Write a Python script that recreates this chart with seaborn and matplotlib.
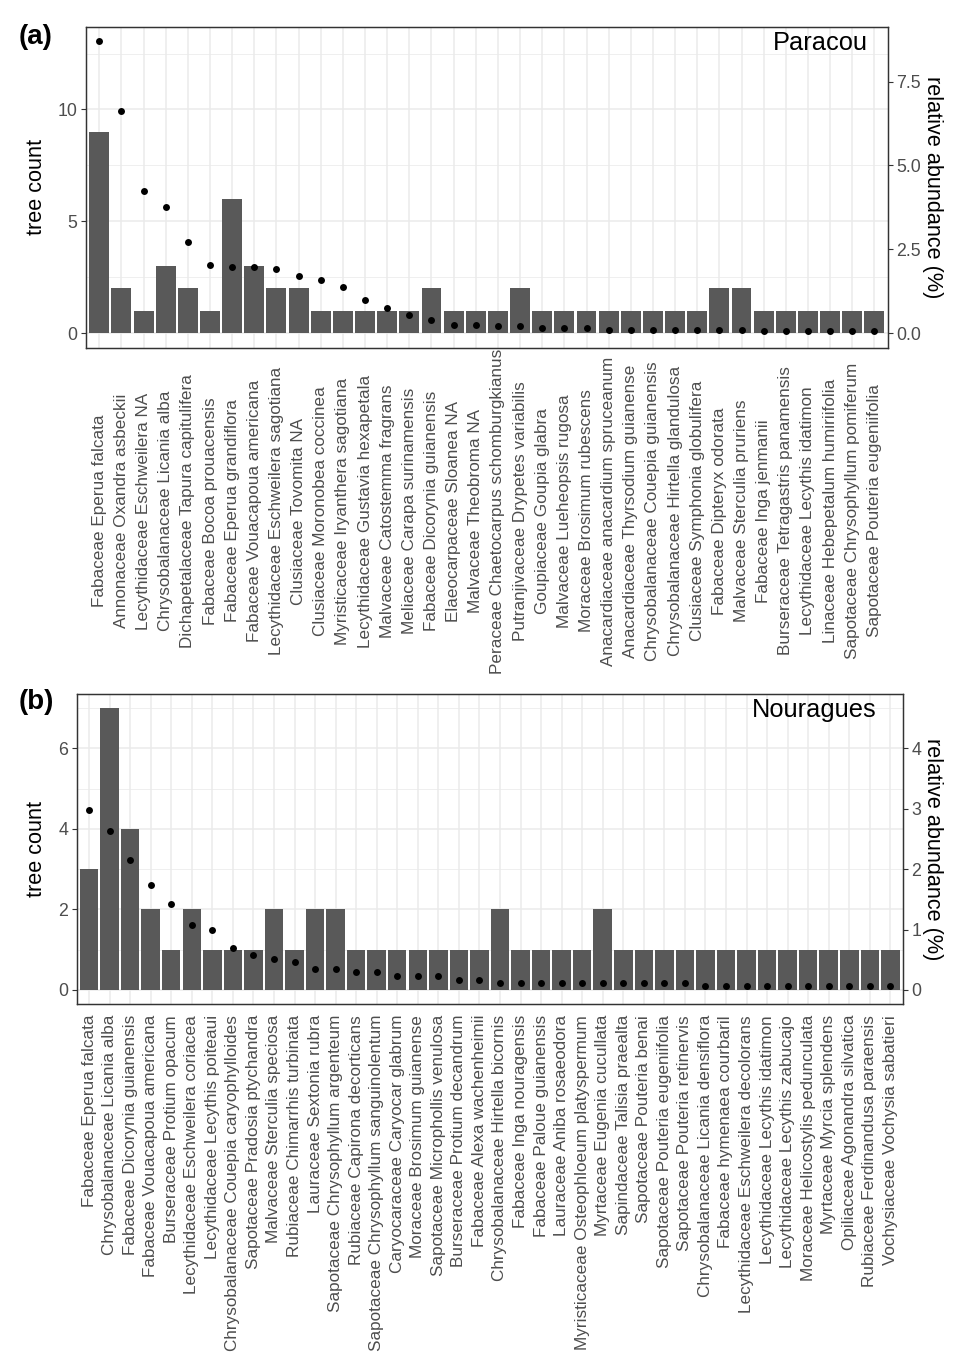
import numpy as np
import matplotlib
matplotlib.use("Agg")
import matplotlib.pyplot as plt
import seaborn as sns
from matplotlib.ticker import FixedLocator

sns.set_style("white")
plt.rcParams['font.family'] = ['Liberation Sans', 'DejaVu Sans']

# Panel (a) Paracou
para_species = [
    "Fabaceae Eperua falcata", "Annonaceae Oxandra asbeckii", "Lecythidaceae Eschweilera NA",
    "Chrysobalanaceae Licania alba", "Dichapetalaceae Tapura capitulifera", "Fabaceae Bocoa prouacensis",
    "Fabaceae Eperua grandiflora", "Fabaceae Vouacapoua americana", "Lecythidaceae Eschweilera sagotiana",
    "Clusiaceae Tovomita NA", "Clusiaceae Moronobea coccinea", "Myristicaceae Iryanthera sagotiana",
    "Lecythidaceae Gustavia hexapetala", "Malvaceae Catostemma fragrans", "Meliaceae Carapa surinamensis",
    "Fabaceae Dicorynia guianensis", "Elaeocarpaceae Sloanea NA", "Malvaceae Theobroma NA",
    "Peraceae Chaetocarpus schomburgkianus", "Putranjivaceae Drypetes variabilis", "Goupiaceae Goupia glabra",
    "Malvaceae Lueheopsis rugosa", "Moraceae Brosimum rubescens", "Anacardiaceae anacardium spruceanum",
    "Anacardiaceae Thyrsodium guianense", "Chrysobalanaceae Couepia guianensis",
    "Chrysobalanaceae Hirtella glandulosa", "Clusiaceae Symphonia globulifera", "Fabaceae Dipteryx odorata",
    "Malvaceae Sterculia pruriens", "Fabaceae Inga jenmanii", "Burseraceae Tetragastris panamensis",
    "Lecythidaceae Lecythis idatimon", "Linaceae Hebepetalum humiriifolia",
    "Sapotaceae Chrysophyllum pomiferum", "Sapotaceae Pouteria eugeniifolia",
]
para_count = [9, 2, 1, 3, 2, 1, 6, 3, 2, 2, 1, 1, 1, 1, 1, 2, 1, 1, 1, 2,
              1, 1, 1, 1, 1, 1, 1, 1, 2, 2, 1, 1, 1, 1, 1, 1]
para_rel = [8.7, 6.62, 4.25, 3.77, 2.73, 2.02, 1.96, 1.96, 1.90, 1.71, 1.58, 1.38,
            1.00, 0.76, 0.53, 0.40, 0.25, 0.25, 0.22, 0.22, 0.15, 0.15, 0.15, 0.08,
            0.08, 0.08, 0.08, 0.08, 0.08, 0.08, 0.05, 0.05, 0.05, 0.05, 0.05, 0.05]

# Panel (b) Nouragues
nour_species = [
    "Fabaceae Eperua falcata", "Chrysobalanaceae Licania alba", "Fabaceae Dicorynia guianensis",
    "Fabaceae Vouacapoua americana", "Burseraceae Protium opacum", "Lecythidaceae Eschweilera coriacea",
    "Lecythidaceae Lecythis poiteaui", "Chrysobalanaceae Couepia caryophylloides",
    "Sapotaceae Pradosia ptychandra", "Malvaceae Sterculia speciosa", "Rubiaceae Chimarrhis turbinata",
    "Lauraceae Sextonia rubra", "Sapotaceae Chrysophyllum argenteum", "Rubiaceae Capirona decorticans",
    "Sapotaceae Chrysophyllum sanguinolentum", "Caryocaraceae Caryocar glabrum",
    "Moraceae Brosimum guianense", "Sapotaceae Microphollis venulosa", "Burseraceae Protium decandrum",
    "Fabaceae Alexa wachenheimii", "Chrysobalanaceae Hirtella bicornis", "Fabaceae Inga nouragensis",
    "Fabaceae Paloue guianensis", "Lauraceae Aniba rosaeodora", "Myristicaceae Osteophloeum platyspermum",
    "Myrtaceae Eugenia cucullata", "Sapindaceae Talisia praealta", "Sapotaceae Pouteria benai",
    "Sapotaceae Pouteria eugeniifolia", "Sapotaceae Pouteria retinervis",
    "Chrysobalanaceae Licania densiflora", "Fabaceae hymenaea courbaril",
    "Lecythidaceae Eschweilera decolorans", "Lecythidaceae Lecythis idatimon",
    "Lecythidaceae Lecythis zabucajo", "Moraceae Helicostylis pedunculata", "Myrtaceae Myrcia splendens",
    "Opiliaceae Agonandra silvatica", "Rubiaceae Ferdinandusa paraensis", "Vochysiaceae Vochysia sabatieri",
]
nour_count = [3, 7, 4, 2, 1, 2, 1, 1, 1, 2, 1, 2, 2, 1, 1, 1, 1, 1, 1, 1,
              2, 1, 1, 1, 1, 2, 1, 1, 1, 1, 1, 1, 1, 1, 1, 1, 1, 1, 1, 1]
nour_rel = [2.98, 2.63, 2.15, 1.73, 1.43, 1.08, 1.00, 0.70, 0.58, 0.52, 0.47, 0.35,
            0.35, 0.29, 0.29, 0.23, 0.23, 0.23, 0.17, 0.17, 0.11, 0.11, 0.11, 0.11,
            0.11, 0.11, 0.11, 0.11, 0.11, 0.11, 0.065, 0.065, 0.065, 0.065, 0.065,
            0.065, 0.065, 0.065, 0.065, 0.065]

K = 2 / 3  # secondary axis: relative abundance = tree count * K

W, H = 979, 1369
fig = plt.figure(figsize=(W / 100, H / 100), dpi=100)
GRID = "#EBEBEB"
BORDER = "#333333"
TICKTXT = "#4D4D4D"


def px(x, y):
    return x / W, 1 - y / H


def panel(rect, names, counts, rel, major, minor, rticks, rlabels, site, tag,
          tagpos, sitepos, centered, lab_left, lab_right):
    l, t, r, b = rect
    ax = fig.add_axes([l / W, 1 - b / H, (r - l) / W, (b - t) / H])
    sns.barplot(x=names, y=counts, color="#595959", saturation=1, width=0.9,
                linewidth=0, ax=ax, zorder=2)
    ax2 = ax.twinx()
    sns.stripplot(x=names, y=rel, jitter=False, color="black", size=5.0,
                  linewidth=0, ax=ax2, zorder=3)

    n = len(names)
    hi = max(max(counts), max(rel) / K)
    ylo, yhi = -0.05 * hi, 1.05 * hi
    ax.set_xlim(-0.6, n - 0.4)
    ax.set_ylim(ylo, yhi)
    ax2.set_ylim(ylo * K, yhi * K)

    ax.yaxis.set_major_locator(FixedLocator(major))
    ax.yaxis.set_minor_locator(FixedLocator(minor))
    ax.set_yticklabels([str(v) for v in major])
    ax2.yaxis.set_major_locator(FixedLocator(rticks))
    ax2.set_yticklabels(rlabels)
    ax.set_axisbelow(True)
    ax.grid(True, which="major", axis="both", color=GRID, linewidth=1.1, zorder=0)
    ax.grid(True, which="minor", axis="y", color=GRID, linewidth=0.55, zorder=0)

    for a in (ax, ax2):
        for s in a.spines.values():
            s.set_color(BORDER)
            s.set_linewidth(0.9)
        a.tick_params(axis="both", which="major", length=3.6, width=0.8,
                      color=BORDER, labelcolor=TICKTXT, labelsize=12.8, pad=2.5)
        a.tick_params(axis="y", which="minor", length=0)

    ax.set_xticks(range(n))
    if centered:
        ax.set_xticklabels(names, rotation=90, va="center", ha="center", fontsize=12.3)
        ax.tick_params(axis="x", pad=114)
    else:
        ax.set_xticklabels(names, rotation=90, va="top", ha="center", fontsize=12.3)
        ax.tick_params(axis="x", pad=4.3)
    ax.set_xlabel("")

    ax.set_ylabel("tree count", fontsize=15.6, color="black")
    ax.yaxis.set_label_coords(*px(lab_left, (t + b) / 2), transform=fig.transFigure)
    ax2.set_ylabel("relative abundance (%)", fontsize=15.6, color="black",
                   rotation=270, va="bottom", ha="center")
    ax2.yaxis.set_label_coords(*px(lab_right, (t + b) / 2), transform=fig.transFigure)

    fig.text(*px(*sitepos), site, ha="right", va="center", fontsize=18.3, color="black")
    fig.text(*px(*tagpos), tag, ha="left", va="center", fontsize=20,
             fontweight="bold", color="black")
    return ax


panel((86, 26.7, 887.7, 347.7), para_species, para_count, para_rel,
      [0, 5, 10], [2.5, 7.5, 12.5], [0, 2.5, 5, 7.5], ["0.0", "2.5", "5.0", "7.5"],
      "Paracou", "(a)", (19, 37), (868, 43), True, 47, 922)

panel((76.7, 694, 902.7, 1004), nour_species, nour_count, nour_rel,
      [0, 2, 4, 6], [1, 3, 5, 7], [0, 1, 2, 3, 4], ["0", "1", "2", "3", "4"],
      "Nouragues", "(b)", (19, 702), (877, 710), False, 47, 922)

fig.savefig("out.png", dpi=100)
